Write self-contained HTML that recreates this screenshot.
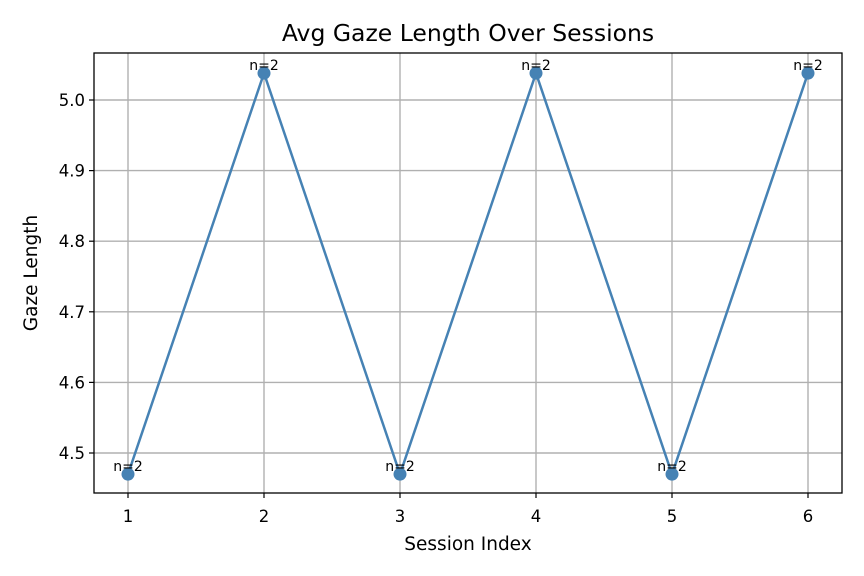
<!DOCTYPE html>
<html><head><meta charset="utf-8"><style>
body{margin:0;background:#fff;}
svg{display:block;font-family:"DejaVu Sans","Liberation Sans",sans-serif;}
</style></head><body>
<svg id="chart" width="864" height="576"></svg>
<script>
const sessions=[1,2,3,4,5,6];
const gaze=[4.47,5.038,4.47,5.038,4.47,5.038];
const counts=["n=2","n=2","n=2","n=2","n=2","n=2"];
const xTicks=[1,2,3,4,5,6];
const yTicks=[4.5,4.6,4.7,4.8,4.9,5.0];
const yTickLabels=["4.5","4.6","4.7","4.8","4.9","5.0"];

const L=94,R=842,T=53,B=493;
const xs=v=>128+(v-1)*136;
const ys=v=>453-(v-4.5)*706;
const ns="http://www.w3.org/2000/svg";
const svg=document.getElementById('chart');
function mk(tag,attrs,text){const e=document.createElementNS(ns,tag);for(const k in attrs)e.setAttribute(k,attrs[k]);if(text!==undefined)e.textContent=text;svg.appendChild(e);return e;}

xTicks.forEach(t=>{
  const g=mk('line',{x1:xs(t),x2:xs(t),y1:T,y2:B,stroke:'#b0b0b0','stroke-width':1.4});
  
  
  mk('line',{x1:xs(t),x2:xs(t),y1:B,y2:B+5,stroke:'#000','stroke-width':1.2});
  const lb=mk('text',{x:xs(t),y:B+29,'text-anchor':'middle','font-size':16.5},String(t));
  
  
});
yTicks.forEach((t,i)=>{
  const g=mk('line',{x1:L,x2:R,y1:ys(t),y2:ys(t),stroke:'#b0b0b0','stroke-width':1.4});
  
  
  mk('line',{x1:L-5,x2:L,y1:ys(t),y2:ys(t),stroke:'#000','stroke-width':1.2});
  const lb=mk('text',{x:L-9,y:ys(t)+6,'text-anchor':'end','font-size':16.5},yTickLabels[i]);
  
  
});
const pts=sessions.map((s,i)=>xs(s)+','+ys(gaze[i])).join(' ');
const line=mk('polyline',{points:pts,fill:'none',stroke:'#4682b4','stroke-width':2.5});


sessions.forEach((s,i)=>{
  const c=mk('circle',{cx:xs(s),cy:ys(gaze[i]),r:6.5,fill:'#4682b4'});
  
  
  const a=mk('text',{x:xs(s),y:ys(gaze[i])-3,'text-anchor':'middle','font-size':14},counts[i]);
  
  
});
const frame=mk('rect',{x:L,y:T,width:R-L,height:B-T,fill:'none',stroke:'#000','stroke-width':1.3});


const title=mk('text',{x:(L+R)/2,y:41,'text-anchor':'middle','font-size':23.5},'Avg Gaze Length Over Sessions');


const xt=mk('text',{x:(L+R)/2,y:550,'text-anchor':'middle','font-size':18.5},'Session Index');


const yt=mk('text',{x:37,y:(T+B)/2,'text-anchor':'middle','font-size':18.5,transform:'rotate(-90 37 '+((T+B)/2)+')'},'Gaze Length');


</script>
</body></html>
